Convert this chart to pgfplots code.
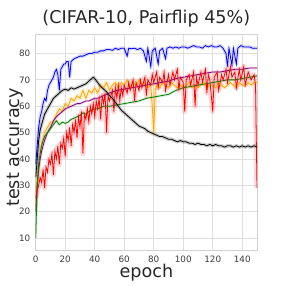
\documentclass[border=0pt]{standalone}
\usepackage{pgfplots}
\usepackage{pgfplotstable}
\pgfplotsset{compat=1.18}
\usepackage{fontspec}
\setmainfont{DejaVu Sans}
\definecolor{mblue}{RGB}{0,0,255}
\definecolor{mred}{RGB}{255,0,0}
\definecolor{morange}{RGB}{255,165,0}
\definecolor{mpurple}{RGB}{128,0,128}
\definecolor{mgreen}{RGB}{0,128,0}
\definecolor{tickc}{RGB}{60,60,60}

\pgfplotstableread{
x y
0 38
1 45
2 52
3 56
4 58
5 61
6 63
7 62
8 66
9 68
10 69
11 70
12 71
13 73
14 74
15 72
16 66
17 74
18 75
19 76
20 76
21 77
22 77
23 71
24 77
26 78
28 78.5
30 79
32 79
34 79.5
36 80
38 80
40 80.5
42 80.5
44 81
46 81
48 81.5
50 81.5
52 81.2
54 82
56 81.5
58 82
60 82
62 79
63 82
65 81.8
67 82
69 81.5
71 82
73 81
75 77
76 82
78 75
79 81
81 82
83 76
84 81
86 82
88 78
89 82
91 82.5
93 82
95 82.5
97 82
99 82.5
101 82.5
103 82
105 82.5
107 83
109 82.5
111 82.5
113 82
115 83
117 82.5
119 83
121 82.5
123 82.5
125 83
127 82
129 80
130 75
131 82
133 75.5
134 82
136 76
137 82
139 83
141 82.5
143 82.5
145 82.5
147 82
150 82
}\blue

\pgfplotstableread{
x y
0 33
1 40
2 47
3 51
4 53
5 55
6 57
8 59
10 61
12 63
14 64
16 65
18 66
20 66.5
22 66
24 67
26 66.5
28 67
30 67.5
32 68
34 68.5
36 69.5
38 70.5
39 71
40 70.5
42 69
44 67.5
46 66.5
48 65.5
50 64
52 63
54 61.5
56 60
58 58.5
60 57.5
62 56.5
64 55.5
66 54.5
68 53.5
70 52.5
72 52
74 51.5
76 50.5
78 50
80 49.5
82 49
84 48.5
86 48.5
88 48
90 47.5
92 47.5
94 47
96 46.5
98 47
100 46.5
102 46.5
104 46
106 46
108 45.5
110 46
112 45.5
114 45.5
116 45
118 45.5
120 45
122 45.5
124 45
126 45
128 44.5
130 45
132 45
134 44.5
136 45
138 44.5
140 45
142 44.5
144 45
146 44.5
148 45
150 44.5
}\black

\pgfplotstableread{
x y
0 22
1 32
2 38
3 43
4 46
5 48
6 50
8 52
10 54
12 54
14 57
16 59
18 58
20 61
22 60
24 63
26 62
28 64
30 63
32 66
34 63
36 66
38 65
40 67
42 65
44 68
46 67
48 69
50 66
52 68
54 69
56 67
58 69
60 68
62 70
64 67
66 69
68 68
70 70
72 68
74 69
76 67
78 68
79 60
80 50
81 66
82 68
84 67
86 69
88 68
90 67
92 69
94 68
96 67
98 68
100 67
102 68
104 69
106 67
108 68
110 67
112 68
114 69
116 67
118 68
120 68
122 67
124 69
126 68
128 67
130 68
132 69
134 68
136 67
138 69
140 68
142 68
144 69
146 68
148 69
150 69
}\orange

\pgfplotstableread{
x y
0 20
1 30
2 36
3 40
4 43
5 45
6 47
8 50
10 52
12 54.5
14 56
16 57
18 58
20 59
22 59.5
24 60
26 60.5
28 61
30 61
32 61.5
34 62
36 62
38 62.5
40 63
42 63
44 63.5
46 64
48 64.5
50 65
55 66
60 66.5
65 67
70 67.5
75 68
80 68.5
85 69
90 69.5
95 70.5
100 71
105 71.5
110 72
115 72.5
120 73
125 73
130 73.5
135 74
140 74
145 74.5
150 74.5
}\purple

\pgfplotstableread{
x y
0 10
1 30
2 38
3 42
4 45
5 47
6 48.5
8 50
10 51.5
12 53
14 54.5
16 53
18 54
20 53.5
22 54
24 55
26 55.5
28 56
30 56.5
32 57.5
34 57
36 58
38 58.5
40 59
42 59
44 59.5
46 60
50 60
55 60.5
60 61
65 61.5
70 62
75 63
80 63.5
85 64
90 64.5
95 66
100 67
105 67.5
110 68
115 68.5
120 69
125 69.5
130 70
135 70
140 70.5
145 71
150 71.5
}\green

\pgfplotstableread{
x y
0 25
1 28
2 30
3 33
4 31
5 36
6 29
7 37
8 35
9 40
10 38
11 42
12 34
13 43
14 40
15 45
16 38
17 46
18 44
19 48
20 41
21 50
22 47
23 52
24 45
25 53
26 50
27 55
28 48
29 56
30 52
31 58
32 42
33 57
34 55
35 59
36 54
37 60
38 57
39 61
40 56
41 62
42 59
43 63
44 55
45 64
46 61
47 65
48 50
49 64
50 62
52 66
53 58
54 67
55 63
56 68
57 62
58 67
59 64
60 68
62 65
63 69
64 66
66 70
67 62
68 69
70 66
71 70
72 67
74 71
75 64
76 70
78 68
79 72
80 69
82 73
83 67
84 71
86 69
87 73
88 66
90 72
91 68
93 73
94 70
96 74
97 66
98 71
100 69
101 58
102 70
104 72
105 68
107 73
108 60
109 71
110 68
112 73
113 69
115 74
116 65
117 72
118 70
120 58
121 71
123 73
124 66
126 72
127 70
129 74
130 69
132 75
133 71
135 73
136 67
138 74
139 70
141 75
142 68
144 73
146 70
148 72
149 68
150 29
}\red

\begin{document}
\begin{tikzpicture}
\begin{axis}[
  scale only axis,
  width=166pt, height=161.8pt,
  xmin=0, xmax=150, ymin=5.5, ymax=87.3,
  xtick={0,20,...,140}, ytick={10,20,...,80},
  grid=major,
  major grid style={draw=gray!25, line width=0.6pt},
  axis line style={draw=gray!35},
  tick style={draw=none},
  major tick length=0pt,
  tick label style={font=\fontsize{6.6}{7}\selectfont, text=tickc},
  /pgf/number format/assume math mode=true,
  xticklabel style={yshift=-1pt},
  yticklabel style={xshift=-0.5pt},
  title={(CIFAR-10, Pairflip 45\%)},
  title style={at={(axis description cs:0.5,1)}, anchor=base, yshift=2pt, font=\fontsize{13.2}{15}\selectfont, text=black!85},
  xlabel={epoch},
  xlabel style={at={(axis description cs:0.5,0)}, anchor=base, yshift=-21pt, font=\fontsize{13.2}{15}\selectfont, text=black!85},
  ylabel={test accuracy},
  ylabel style={at={(axis description cs:-0.074,0.475)}, anchor=base, font=\fontsize{13.2}{15}\selectfont, text=black!85},
  clip=true,
]
% bands
\addplot[draw=morange, opacity=0.2, line width=3pt, line join=round] table {\orange};
\addplot[draw=mpurple, opacity=0.15, line width=2pt, line join=round] table {\purple};
\addplot[draw=mgreen, opacity=0.15, line width=2pt, line join=round] table {\green};
\addplot[draw=mred, opacity=0.15, line width=4pt, line join=round] table {\red};
\addplot[draw=black, opacity=0.2, line width=2.6pt, line join=round] table {\black};
\addplot[draw=mblue, opacity=0.15, line width=2.6pt, line join=round] table {\blue};
% lines
\addplot[draw=morange, line width=0.6pt] table {\orange};
\addplot[draw=mpurple, line width=0.6pt] table {\purple};
\addplot[draw=mgreen, line width=0.6pt] table {\green};
\addplot[draw=mred, line width=0.6pt] table {\red};
\addplot[draw=black, line width=0.6pt] table {\black};
\addplot[draw=mblue, line width=0.6pt] table {\blue};
\end{axis}
\pgfresetboundingbox
\path[use as bounding box] ([xshift=-26.8pt,yshift=-27pt]current axis.south west) rectangle ([xshift=21.75pt,yshift=25.7pt]current axis.north east);
\end{tikzpicture}
\end{document}
